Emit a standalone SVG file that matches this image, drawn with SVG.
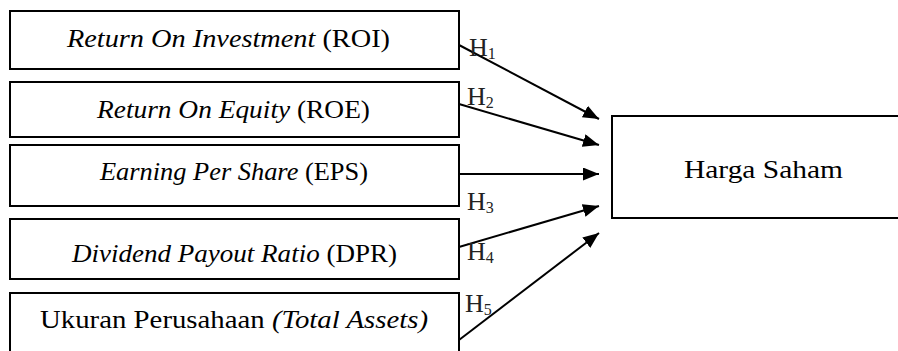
<svg xmlns="http://www.w3.org/2000/svg" width="898" height="351" viewBox="0 0 898 351">
<style>
.box{fill:#fff;stroke:#000;stroke-width:2}
.t{font-family:"Liberation Serif","Times New Roman",serif;font-size:26px;fill:#000}
.h{font-family:"Liberation Serif","Times New Roman",serif;font-size:26px;fill:#222}
.sub{font-size:16px}
.i{font-style:italic}
.arr{stroke:#000;stroke-width:2;fill:none;marker-end:url(#ah)}
</style>
<defs>
<marker id="ah" markerUnits="userSpaceOnUse" markerWidth="18" markerHeight="14" refX="16" refY="6.5" orient="auto">
<path d="M0,0 L16,6.5 L0,13 Z" fill="#000"/>
</marker>
</defs>
<rect width="898" height="351" fill="#fff"/>
<g id="roi">
<rect class="box" x="10" y="11" width="449" height="58"/>
<text class="t" x="67" y="47" textLength="323" lengthAdjust="spacingAndGlyphs"><tspan class="i">Return On Investment</tspan> (ROI)</text>
</g>
<g id="roe">
<rect class="box" x="10" y="82" width="449" height="55"/>
<text class="t" x="97" y="118" textLength="273" lengthAdjust="spacingAndGlyphs"><tspan class="i">Return On Equity</tspan> (ROE)</text>
</g>
<g id="eps">
<rect class="box" x="10" y="145" width="449" height="61"/>
<text class="t" x="100" y="180" textLength="268" lengthAdjust="spacingAndGlyphs"><tspan class="i">Earning Per Share</tspan> (EPS)</text>
</g>
<g id="dpr">
<rect class="box" x="10" y="219" width="449" height="60"/>
<text class="t" x="72" y="262" textLength="325" lengthAdjust="spacingAndGlyphs"><tspan class="i">Dividend Payout Ratio</tspan> (DPR)</text>
</g>
<g id="ukuran">
<rect class="box" x="10" y="293" width="449" height="70"/>
<text class="t" x="40" y="328" textLength="388" lengthAdjust="spacingAndGlyphs">Ukuran Perusahaan <tspan class="i">(Total Assets)</tspan></text>
</g>
<g id="harga">
<rect class="box" x="612" y="116" width="300" height="102"/>
<text class="t" x="684" y="178" textLength="159" lengthAdjust="spacingAndGlyphs">Harga Saham</text>
</g>
<g id="connectors">
<line class="arr" x1="459" y1="45" x2="599" y2="119"/>
<line class="arr" x1="459" y1="104" x2="599" y2="145"/>
<line class="arr" x1="459" y1="174" x2="599" y2="174"/>
<line class="arr" x1="459" y1="247" x2="599" y2="206"/>
<line class="arr" x1="459" y1="340" x2="599" y2="233"/>
</g>
<g id="labels">
<text class="h" x="469" y="56">H<tspan class="sub" dy="3">1</tspan></text>
<text class="h" x="467" y="105">H<tspan class="sub" dy="3">2</tspan></text>
<text class="h" x="467" y="210">H<tspan class="sub" dy="3">3</tspan></text>
<text class="h" x="467" y="260">H<tspan class="sub" dy="3">4</tspan></text>
<text class="h" x="465" y="312">H<tspan class="sub" dy="3">5</tspan></text>
</g>
</svg>
